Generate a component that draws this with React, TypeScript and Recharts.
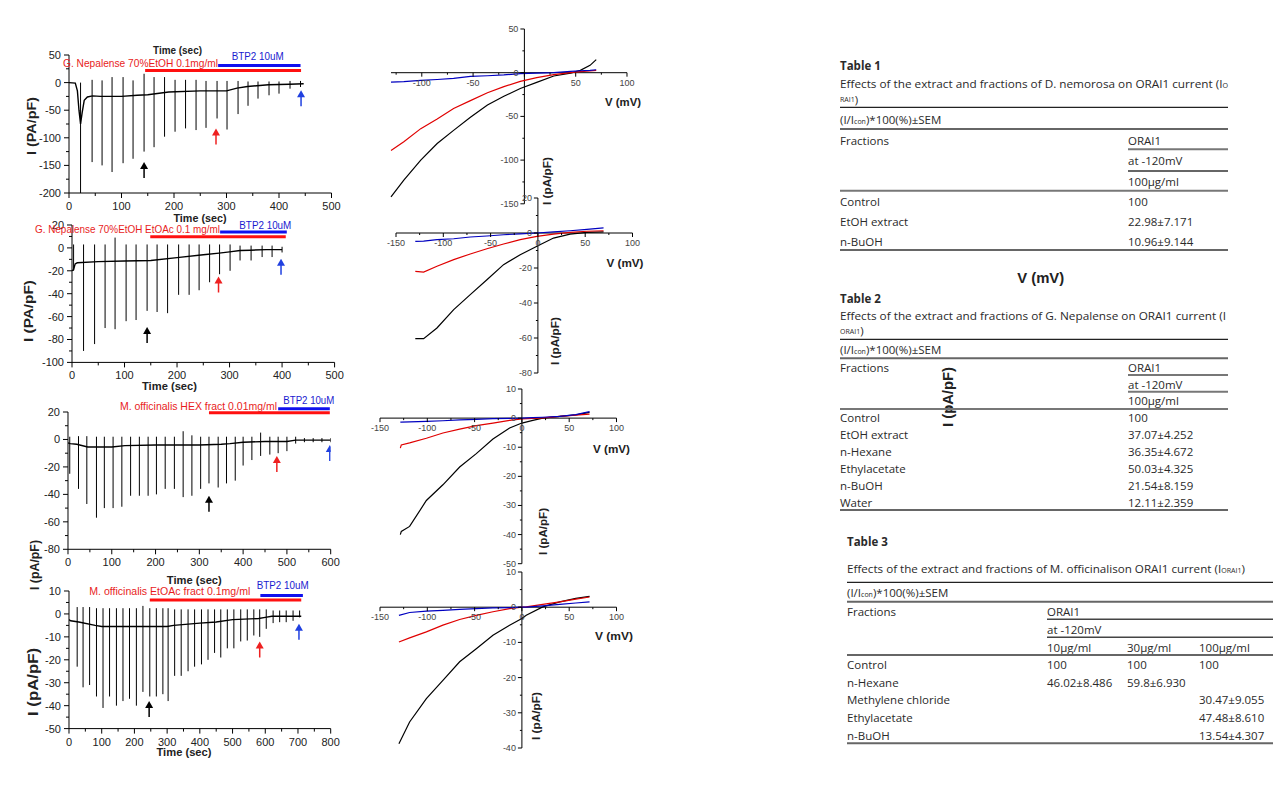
import React from 'react';
import { ComposedChart, Line, XAxis, YAxis, Scatter, ReferenceLine } from 'recharts';

// ---------- time course traces (t in sec, I in pA/pF) ----------
// G. Nepalense 70% EtOH
const nepEtohBaseT = [0, 12, 16, 19, 22, 25, 29, 35, 45, 60, 100, 130, 150, 190, 250, 300, 320, 340, 380, 420, 447];
const nepEtohBaseI = [0, -1, -15, -50, -75, -55, -32, -26, -24, -25, -25, -23, -22, -17, -15, -15, -10, -7, -4, -3, -2];
const nepEtohSpikeT = [22, 44, 63, 82, 103, 122, 143, 162, 182, 202, 222, 242, 261, 282, 301, 322, 341, 360, 381, 400, 421, 441];
const nepEtohSpikeLo = [-200, -144, -150, -162, -146, -138, -125, -117, -98, -89, -83, -86, -82, -65, -85, -57, -42, -29, -23, -20, -11, -8];
const nepEtohSpikeHi = [0, 5, 4, 10, 10, 4, 16, 10, 10, 5, 5, 5, 3, 3, 3, 3, 2, 2, 2, 2, 3, 3];
const nepEtohArrowT = [143, 280, 442];
const nepEtohArrowI = [-144, -83, -14];
const nepEtohRedBar = [145, 442, 22];
const nepEtohBlueBar = [284, 441, 31];

// G. Nepalense 70% EtOH EtOAc
const nepEtoacBaseT = [0, 3, 6, 10, 50, 100, 150, 200, 250, 280, 300, 320, 340, 370, 400];
const nepEtoacBaseI = [-20, -19, -14, -13, -12, -11.5, -11, -8.5, -6, -4.6, -3.5, -2.3, -2, -1.5, -1.5];
const nepEtoacSpikeT = [3, 22, 43, 63, 82, 103, 122, 143, 162, 182, 203, 223, 242, 262, 281, 301, 320, 341, 362, 381, 400];
const nepEtoacSpikeLo = [-20, -90, -84, -70, -71, -64, -63, -55, -56, -57, -41, -41, -37, -30, -23, -20, -11, -11, -8, -8, -4];
const nepEtoacSpikeHi = [3, 3, 3, 3, 9, 3, 3, 3, 3, 3, 3, 3, 3, 3, 3, 3, 2, 2, 2, 2, 1];
const nepEtoacArrowT = [143, 279, 398];
const nepEtoacArrowI = [-69, -25, -9.5];
const nepEtoacRedBar = [149, 407, 9.8];
const nepEtoacBlueBar = [282, 409, 13.9];

// M. officinalis HEX fract
const offHexBaseT = [0, 5, 20, 45, 100, 130, 200, 300, 350, 370, 400, 450, 500, 520, 600];
const offHexBaseI = [-2.5, -3, -3.5, -5.5, -5.5, -4.5, -4, -4, -3.5, -3, -2, -1.5, -1.5, -0.5, -0.5];
const offHexSpikeT = [4, 24, 43, 65, 83, 103, 123, 143, 163, 183, 202, 222, 243, 263, 283, 303, 322, 343, 362, 382, 400, 420, 440, 461, 480, 500, 520, 540, 560, 580, 600];
const offHexSpikeLo = [-25, -36, -47, -57, -50, -50, -49, -41, -41, -41, -40, -36, -36, -42, -41, -36, -32, -35, -32, -30, -19, -15, -12, -11, -10, -8.5, -3, -2, -2, -2, -2];
const offHexSpikeHi = [2, 2.4, 2.4, 2, 2, 2, 2, 2, 2, 2, 2, 2, 2, 6, 3, 2, 2, 2, 2, 2, 2, 2, 5, 2, 2, 2, 2, 1, 1, 1, 1];
const offHexArrowT = [322, 477, 598];
const offHexArrowI = [-41, -12, -4];
const offHexRedBar = [322, 598, 19.4];
const offHexBlueBar = [480, 598, 22.3];

// M. officinalis EtOAc fract
const offEtoacBaseT = [0, 5, 30, 80, 100, 200, 300, 320, 400, 450, 500, 580, 600, 620, 700, 710];
const offEtoacBaseI = [-2.5, -3, -3.5, -5, -5.5, -5.5, -5.5, -5, -4, -3.5, -2.5, -2, -1.5, -1, -1, -1];
const offEtoacSpikeT = [25, 43, 63, 84, 104, 124, 145, 165, 185, 206, 226, 247, 267, 287, 303, 323, 343, 364, 384, 405, 425, 445, 464, 484, 504, 525, 545, 565, 583, 603, 624, 644, 664, 685, 705];
const offEtoacSpikeLo = [-23, -32, -31, -36, -41, -36, -40, -38, -37, -40, -34, -36, -36, -35, -38, -27, -27, -25, -23, -22, -20, -17, -19, -15, -15, -12, -11.6, -9.4, -10, -6.5, -4, -3.6, -3.6, -3, -1.5];
const offEtoacSpikeHi = [3, 3, 3, 2.5, 2.5, 2.5, 2.5, 2.5, 2.5, 2.5, 3.5, 2.5, 2.5, 2.5, 2.5, 2, 2, 2, 2, 2, 2, 2, 2, 2, 2, 2, 2, 2, 2, 2, 1.5, 1.5, 1.5, 1.5, 1.5];
const offEtoacArrowT = [245, 583, 703];
const offEtoacArrowI = [-38, -12, -4.3];
const offEtoacRedBar = [247, 710, 6.1];
const offEtoacBlueBar = [585, 715, 8];

const arrowColors = ['#000000', '#ee2020', '#2040e0'];

// ---------- I-V curves (V in mV, I in pA/pF) ----------
const iv1V = [-130, -117.5, -101, -85, -69, -52.6, -36, -20, -4, 12, 28.6, 45, 54.5, 64, 70];
const iv1Ctrl = [-142, -123, -100, -81, -66, -51, -37, -27, -18, -11, -3.8, -0.4, 2.7, 8.4, 15];
const iv1Drug = [-89, -79, -64, -53, -41, -32, -23, -16, -10, -5.7, -2.3, 0, 1.2, 2, 2.7];
const iv1Btp2 = [-10.7, -10.2, -8.8, -7.8, -6.5, -4.2, -3.5, -2.5, -1, -0.5, 0, 1.5, 2.2, 2.7, 3.4];

const iv2V = [-129.6, -120.8, -106.7, -89, -71.5, -53.9, -36.3, -18.7, -1, 16.5, 34, 51.8, 69.4];
const iv2Ctrl = [-60.4, -60.4, -54.3, -43.8, -35.2, -26.7, -18.1, -12.4, -7.6, -2.9, -0.6, 0.4, 0.6];
const iv2Drug = [-21.9, -22.3, -19, -15.2, -12, -9, -6.3, -3.8, -1.9, -0.6, 0.4, 1, 1.3];
const iv2Btp2 = [-4.8, -4.6, -3.8, -3.3, -2.3, -1.7, -1, -0.5, 0, 0.6, 1.3, 2.1, 2.9];

const iv3V = [-128.5, -127.5, -118.7, -101, -83.5, -65.8, -48.2, -30.6, -13, 0, 11.6, 22, 40, 57, 71.5];
const iv3Ctrl = [-40, -38.9, -37.2, -28.3, -22.9, -16.8, -12.2, -7.2, -3.4, -1.7, -0.8, 0, 0.6, 1.1, 2];
const iv3Drug = [-10.3, -9.2, -8.5, -6.9, -5.1, -3.8, -2.6, -1.7, -0.8, -0.3, -0.1, 0.1, 0.6, 1, 1.4];
const iv3Btp2 = [-1.4, -1.4, -1.3, -1.1, -0.9, -0.6, -0.4, -0.2, -0.1, 0, 0.2, 0.3, 0.6, 1.2, 2.2];

const iv4V = [-130, -118.7, -101, -83.5, -65.8, -48.2, -30.6, -13, 0, 4.6, 22, 40, 57, 71.5];
const iv4Ctrl = [-38.8, -32.6, -26, -20.8, -15.5, -11.8, -8, -5.1, -3.2, -2.3, 0.1, 1.5, 2.5, 3.1];
const iv4Drug = [-9.9, -8.7, -7, -5.1, -3.5, -2.3, -1.3, -0.4, 0, 0.1, 0.8, 1.5, 2.3, 2.9];
const iv4Btp2 = [-2.3, -1.5, -1.1, -0.9, -0.6, -0.4, -0.2, -0.1, 0, 0, 0.4, 0.8, 1.2, 1.5];

// ---------- tables ----------
const t1Rows = ['Control', 'EtOH extract', 'n-BuOH'];
const t1Vals = ['100', '22.98±7.171', '10.96±9.144'];
const t2Rows = ['Control', 'EtOH extract', 'n-Hexane', 'Ethylacetate', 'n-BuOH', 'Water'];
const t2Vals = ['100', '37.07±4.252', '36.35±4.672', '50.03±4.325', '21.54±8.159', '12.11±2.359'];
const t3Rows = ['Control', 'n-Hexane', 'Methylene  chloride', 'Ethylacetate', 'n-BuOH'];
const t3Doses = ['10μg/ml', '30μg/ml', '100μg/ml'];
const t3Val10 = ['100', '46.02±8.486', '', '', ''];
const t3Val30 = ['100', '59.8±6.930', '', '', ''];
const t3Val100 = ['100', '', '30.47±9.055', '47.48±8.610', '13.54±4.307'];

const FONT_PLOT = '"Liberation Sans", Arial, sans-serif';
const FONT_TABLE = '"Open Sans", "Noto Sans", sans-serif';
const RED = '#e81c1c';
const BLUE = '#1a1ad0';

function makeXTick(majors: number[]) {
  return (props: any) => {
    const { x, y, payload } = props;
    const major = majors.includes(payload.value);
    return (
      <g>
        <line x1={x} x2={x} y1={y} y2={y + (major ? 5 : 3)} stroke="#000" />
        {major && (
          <text x={x} y={y + 13} textAnchor="middle" dominantBaseline="central" fontSize={11} fontFamily={FONT_PLOT} fill="#222">
            {payload.value}
          </text>
        )}
      </g>
    );
  };
}

function makeYTick(majors: number[]) {
  return (props: any) => {
    const { x, y, payload } = props;
    const major = majors.includes(payload.value);
    return (
      <g>
        <line x1={x} x2={x - (major ? 5 : 3)} y1={y} y2={y} stroke="#000" />
        {major && (
          <text x={x - 8} y={y} textAnchor="end" dominantBaseline="central" fontSize={11} fontFamily={FONT_PLOT} fill="#222">
            {payload.value}
          </text>
        )}
      </g>
    );
  };
}

function Arrow(props: any) {
  const { cx, cy, payload } = props;
  const c = payload.color;
  return (
    <g>
      <line x1={cx} x2={cx} y1={cy + 5} y2={cy + 16} stroke={c} strokeWidth={1.5} />
      <polygon points={`${cx},${cy} ${cx - 4},${cy + 7} ${cx + 4},${cy + 7}`} fill={c} />
    </g>
  );
}

interface TraceProps {
  x0: number; x1: number; y0: number; y1: number;
  xDomain: [number, number]; yDomain: [number, number];
  xMajor: number[]; xMinor: number[]; yMajor: number[]; yMinor: number[];
  baseT: number[]; baseI: number[];
  spikeT: number[]; spikeLo: number[]; spikeHi: number[];
  arrowT: number[]; arrowI: number[];
  redBar: number[]; blueBar: number[];
}

function TracePanel(p: TraceProps) {
  const base = p.baseT.map((t, i) => ({ x: t, y: p.baseI[i] }));
  const spikes: { x: number; y: number | null }[] = [];
  p.spikeT.forEach((t, i) => {
    spikes.push({ x: t, y: p.spikeHi[i] }, { x: t, y: p.spikeLo[i] }, { x: t, y: null });
  });
  const arrows = p.arrowT.map((t, i) => ({ x: t, y: p.arrowI[i], color: arrowColors[i] }));
  const padL = 60, padT = 20, padR = 20, padB = 30;
  const w = p.x1 - p.x0 + padL + padR;
  const h = p.y1 - p.y0 + padT + padB;
  return (
    <div style={{ position: 'absolute', left: p.x0 - padL, top: p.y0 - padT }}>
      <ComposedChart width={w} height={h} margin={{ top: padT, right: padR, bottom: 0, left: 0 }}>
        <XAxis type="number" dataKey="x" domain={p.xDomain} ticks={[...p.xMajor, ...p.xMinor].sort((a, b) => a - b)}
          interval={0} tickSize={0} tickMargin={0} tickLine={false} axisLine={{ stroke: '#000' }}
          tick={makeXTick(p.xMajor)} allowDataOverflow height={padB} />
        <YAxis type="number" dataKey="y" domain={p.yDomain} ticks={[...p.yMajor, ...p.yMinor].sort((a, b) => a - b)}
          interval={0} tickSize={0} tickMargin={0} tickLine={false} axisLine={{ stroke: '#000' }}
          tick={makeYTick(p.yMajor)} allowDataOverflow width={padL} />
        <ReferenceLine segment={[{ x: p.redBar[0], y: p.redBar[2] }, { x: p.redBar[1], y: p.redBar[2] }]}
          stroke="#ff1010" strokeWidth={3} ifOverflow="visible" />
        <ReferenceLine segment={[{ x: p.blueBar[0], y: p.blueBar[2] }, { x: p.blueBar[1], y: p.blueBar[2] }]}
          stroke="#1010ee" strokeWidth={3} ifOverflow="visible" />
        <Line data={spikes} dataKey="y" type="linear" stroke="#000" strokeWidth={1} dot={false} isAnimationActive={false} />
        <Line data={base} dataKey="y" type="linear" stroke="#000" strokeWidth={1.4} dot={false} isAnimationActive={false} />
        <Scatter data={arrows} dataKey="y" shape={Arrow} isAnimationActive={false} />
      </ComposedChart>
    </div>
  );
}

interface IVProps {
  x0: number; x1: number; y0: number; y1: number;
  xDomain: [number, number]; yDomain: [number, number];
  xMajor: number[]; xMinor: number[]; yMajor: number[]; yMinor: number[];
  hideX0?: boolean;
  v: number[]; ctrl: number[]; drug: number[]; btp2: number[];
}

function IVPanel(p: IVProps) {
  const mk = (arr: number[]) => p.v.map((v, i) => ({ x: v, y: arr[i] }));
  const xTicks = [
    ...p.xMajor.map((v) => ({ x: v, y: 0, major: true })),
    ...p.xMinor.map((v) => ({ x: v, y: 0, major: false })),
  ];
  const yTicks = [
    ...p.yMajor.map((v) => ({ x: 0, y: v, major: true })),
    ...p.yMinor.map((v) => ({ x: 0, y: v, major: false })),
  ];
  const xTickShape = (s: any) => {
    const { cx, cy, payload } = s;
    const showLabel = payload.major && !(p.hideX0 && payload.x === 0);
    return (
      <g>
        <line x1={cx} x2={cx} y1={cy} y2={cy + (payload.major ? 4 : 2)} stroke="#000" />
        {showLabel && (
          <text x={cx} y={cy + 10} textAnchor="middle" dominantBaseline="central" fontSize={9} fontFamily={FONT_PLOT} fill="#444">
            {payload.x}
          </text>
        )}
      </g>
    );
  };
  const yTickShape = (s: any) => {
    const { cx, cy, payload } = s;
    return (
      <g>
        <line x1={cx} x2={cx - (payload.major ? 4 : 2)} y1={cy} y2={cy} stroke="#000" />
        {payload.major && (
          <text x={cx - 6} y={cy} textAnchor="end" dominantBaseline="central" fontSize={9} fontFamily={FONT_PLOT} fill="#444">
            {payload.y}
          </text>
        )}
      </g>
    );
  };
  const pad = 10;
  return (
    <div style={{ position: 'absolute', left: p.x0 - pad, top: p.y0 - pad }}>
      <ComposedChart width={p.x1 - p.x0 + 2 * pad} height={p.y1 - p.y0 + 2 * pad} margin={{ top: pad, right: pad, bottom: pad, left: pad }}>
        <XAxis type="number" dataKey="x" domain={p.xDomain} hide />
        <YAxis type="number" dataKey="y" domain={p.yDomain} hide />
        <ReferenceLine x={0} stroke="#000" />
        <ReferenceLine y={0} stroke="#000" />
        <Scatter data={xTicks} dataKey="y" shape={xTickShape} isAnimationActive={false} />
        <Scatter data={yTicks} dataKey="y" shape={yTickShape} isAnimationActive={false} />
        <Line data={mk(p.ctrl)} dataKey="y" type="linear" stroke="#000" strokeWidth={1.2} dot={false} isAnimationActive={false} />
        <Line data={mk(p.drug)} dataKey="y" type="linear" stroke="#e00000" strokeWidth={1.2} dot={false} isAnimationActive={false} />
        <Line data={mk(p.btp2)} dataKey="y" type="linear" stroke="#0000c0" strokeWidth={1.2} dot={false} isAnimationActive={false} />
      </ComposedChart>
    </div>
  );
}

function Txt(props: any) {
  const { x, y, children, size = 11, bold = false, color = '#222', len, anchor = 'start', rot = false, family = FONT_PLOT } = props;
  const common: any = {
    fontSize: size, fontWeight: bold ? 700 : 400, fill: color, fontFamily: family,
    textAnchor: anchor, dominantBaseline: 'central',
  };
  if (len) { common.textLength = len; common.lengthAdjust = 'spacingAndGlyphs'; }
  if (rot) return <text transform={`translate(${x},${y}) rotate(-90)`} {...common}>{children}</text>;
  return <text x={x} y={y} {...common}>{children}</text>;
}

function T(props: any) {
  return <Txt family={FONT_TABLE} size={11.5} color="#2a2a2a" {...props} />;
}

function HLine({ x1, x2, y, w = 1, c = '#333' }: any) {
  return <line x1={x1} x2={x2} y1={y} y2={y} stroke={c} strokeWidth={w} />;
}

const sub = (s: string) => <tspan fontSize={7} dy={2}>{s}</tspan>;

export default function App() {
  const tMaj500 = [0, 100, 200, 300, 400, 500];
  const tMin500 = [50, 150, 250, 350, 450];
  const ivXMaj = [-150, -100, -50, 0, 50, 100];
  const ivXMin = [-125, -75, -25, 25, 75];
  return (
    <div style={{ position: 'absolute', left: 0, top: 0, width: 1273, height: 788, background: '#fff', overflow: 'hidden' }}>
      <TracePanel x0={68.5} x1={331} y0={55} y1={193} xDomain={[0, 500]} yDomain={[-200, 50]}
        xMajor={tMaj500} xMinor={tMin500} yMajor={[-200, -150, -100, -50, 0, 50]} yMinor={[-175, -125, -75, -25, 25]}
        baseT={nepEtohBaseT} baseI={nepEtohBaseI} spikeT={nepEtohSpikeT} spikeLo={nepEtohSpikeLo} spikeHi={nepEtohSpikeHi}
        arrowT={nepEtohArrowT} arrowI={nepEtohArrowI} redBar={nepEtohRedBar} blueBar={nepEtohBlueBar} />
      <TracePanel x0={71.7} x1={334.3} y0={225.3} y1={362.7} xDomain={[0, 500]} yDomain={[-100, 20]}
        xMajor={tMaj500} xMinor={tMin500} yMajor={[-100, -80, -60, -40, -20, 0, 20]} yMinor={[-90, -70, -50, -30, -10, 10]}
        baseT={nepEtoacBaseT} baseI={nepEtoacBaseI} spikeT={nepEtoacSpikeT} spikeLo={nepEtoacSpikeLo} spikeHi={nepEtoacSpikeHi}
        arrowT={nepEtoacArrowT} arrowI={nepEtoacArrowI} redBar={nepEtoacRedBar} blueBar={nepEtoacBlueBar} />
      <TracePanel x0={68.3} x1={331} y0={412} y1={549.3} xDomain={[0, 600]} yDomain={[-80, 20]}
        xMajor={[0, 100, 200, 300, 400, 500, 600]} xMinor={[50, 150, 250, 350, 450, 550]}
        yMajor={[-80, -60, -40, -20, 0, 20]} yMinor={[-70, -50, -30, -10, 10]}
        baseT={offHexBaseT} baseI={offHexBaseI} spikeT={offHexSpikeT} spikeLo={offHexSpikeLo} spikeHi={offHexSpikeHi}
        arrowT={offHexArrowT} arrowI={offHexArrowI} redBar={offHexRedBar} blueBar={offHexBlueBar} />
      <TracePanel x0={69.3} x1={331} y0={590.7} y1={728.3} xDomain={[0, 800]} yDomain={[-50, 10]}
        xMajor={[0, 100, 200, 300, 400, 500, 600, 700, 800]} xMinor={[50, 150, 250, 350, 450, 550, 650, 750]}
        yMajor={[-50, -40, -30, -20, -10, 0, 10]} yMinor={[-45, -35, -25, -15, -5, 5]}
        baseT={offEtoacBaseT} baseI={offEtoacBaseI} spikeT={offEtoacSpikeT} spikeLo={offEtoacSpikeLo} spikeHi={offEtoacSpikeHi}
        arrowT={offEtoacArrowT} arrowI={offEtoacArrowI} redBar={offEtoacRedBar} blueBar={offEtoacBlueBar} />

      <IVPanel x0={390.6} x1={626.6} y0={29} y1={203.8} xDomain={[-130, 100]} yDomain={[-150, 50]}
        xMajor={[-100, -50, 0, 50, 100]} xMinor={ivXMin} yMajor={[-150, -100, -50, 0, 50]} yMinor={[-125, -75, -25, 25]}
        hideX0 v={iv1V} ctrl={iv1Ctrl} drug={iv1Drug} btp2={iv1Btp2} />
      <IVPanel x0={395.8} x1={632.3} y0={198.3} y1={373.3} xDomain={[-150, 100]} yDomain={[-80, 20]}
        xMajor={ivXMaj} xMinor={ivXMin} yMajor={[-80, -60, -40, -20, 0, 20]} yMinor={[-70, -50, -30, -10, 10]}
        v={iv2V} ctrl={iv2Ctrl} drug={iv2Drug} btp2={iv2Btp2} />
      <IVPanel x0={380.4} x1={616.9} y0={389.3} y1={564} xDomain={[-150, 100]} yDomain={[-50, 10]}
        xMajor={ivXMaj} xMinor={ivXMin} yMajor={[-50, -40, -30, -20, -10, 0, 10]} yMinor={[-45, -35, -25, -15, -5, 5]}
        v={iv3V} ctrl={iv3Ctrl} drug={iv3Drug} btp2={iv3Btp2} />
      <IVPanel x0={380.4} x1={616.9} y0={571.7} y1={747.7} xDomain={[-150, 100]} yDomain={[-40, 10]}
        xMajor={ivXMaj} xMinor={ivXMin} yMajor={[-40, -30, -20, -10, 0, 10]} yMinor={[-35, -25, -15, -5, 5]}
        v={iv4V} ctrl={iv4Ctrl} drug={iv4Drug} btp2={iv4Btp2} />

      <svg width={1273} height={788} style={{ position: 'absolute', left: 0, top: 0, pointerEvents: 'none' }}>
        {/* trace panel labels */}
        <Txt x={177.5} y={50} bold size={11} anchor="middle" len={49}>Time (sec)</Txt>
        <Txt x={63} y={63.3} size={10.5} color={RED} len={155}>G. Nepalense 70%EtOH 0.1mg/ml</Txt>
        <Txt x={231.7} y={55.7} size={10.5} color={BLUE} len={52}>BTP2 10uM</Txt>
        <Txt x={31.7} y={126} rot bold size={13} anchor="middle" len={58}>I (PA/pF)</Txt>

        <Txt x={200} y={218.3} bold size={11} anchor="middle" len={53}>Time (sec)</Txt>
        <Txt x={35} y={229} size={10.5} color={RED} len={185}>G. Nepalense 70%EtOH EtOAc 0.1 mg/ml</Txt>
        <Txt x={239.3} y={225} size={10.5} color={BLUE} len={52}>BTP2 10uM</Txt>
        <Txt x={28.3} y={311} rot bold size={13} anchor="middle" len={62}>I (PA/pF)</Txt>
        <Txt x={169.5} y={385.5} bold size={11} anchor="middle" len={55}>Time (sec)</Txt>

        <Txt x={120} y={406} size={10.5} color={RED} len={157}>M. officinalis HEX fract 0.01mg/ml</Txt>
        <Txt x={283.3} y={400} size={10.5} color={BLUE} len={51}>BTP2 10uM</Txt>
        <Txt x={34} y={565} rot bold size={13} anchor="middle" len={50}>I (pA/pF)</Txt>

        <Txt x={194.3} y={580} bold size={11} anchor="middle" len={55}>Time (sec)</Txt>
        <Txt x={89.3} y={590.7} size={10.5} color={RED} len={161}>M. officinalis EtOAc fract 0.1mg/ml</Txt>
        <Txt x={256.7} y={585} size={10.5} color={BLUE} len={52}>BTP2 10uM</Txt>
        <Txt x={33.3} y={682} rot bold size={14} anchor="middle" len={68}>I (pA/pF)</Txt>
        <Txt x={184} y={751.5} bold size={11} anchor="middle" len={55}>Time (sec)</Txt>

        {/* IV labels */}
        <Txt x={623} y={101.7} bold size={11.5} anchor="middle" len={36}>V (mV)</Txt>
        <Txt x={547} y={181} rot bold size={11.5} anchor="middle" len={48}>I (pA/pF)</Txt>
        <Txt x={625} y={263} bold size={11.5} anchor="middle" len={37}>V (mV)</Txt>
        <Txt x={555} y={341} rot bold size={11.5} anchor="middle" len={48}>I (pA/pF)</Txt>
        <Txt x={611.5} y={449} bold size={11.5} anchor="middle" len={37}>V (mV)</Txt>
        <Txt x={543} y={531.5} rot bold size={11.5} anchor="middle" len={47}>I (pA/pF)</Txt>
        <Txt x={614} y={635.7} bold size={11.5} anchor="middle" len={38}>V (mV)</Txt>
        <Txt x={535.7} y={716} rot bold size={11.5} anchor="middle" len={48}>I (pA/pF)</Txt>

        {/* stray labels */}
        <Txt x={1040.7} y={278.3} bold size={14.5} anchor="middle" len={47}>V (mV)</Txt>
        <Txt x={948.3} y={397} rot bold size={14.5} anchor="middle" len={60}>I (pA/pF)</Txt>

        {/* Table 1 */}
        <T x={840} y={65} bold>Table 1</T>
        <T x={840} y={83.3} len={388}>Effects of the  extract and fractions of D. nemorosa on ORAI1 current (I{sub('O')}</T>
        <T x={840} y={99}><tspan fontSize={7}>RAI1</tspan>)</T>
        <HLine x1={840} x2={1228} y={107.3} w={1.2} c="#222" />
        <T x={840} y={119}>(I/I{sub('con')}<tspan dy={-2}>)*100(%)±SEM</tspan></T>
        <HLine x1={840} x2={1228} y={129} w={2} c="#666" />
        <T x={840} y={140}>Fractions</T>
        <T x={1128} y={140}>ORAI1</T>
        <HLine x1={1128} x2={1228} y={149.3} w={2} c="#777" />
        <T x={1128} y={160}>at -120mV</T>
        <HLine x1={1128} x2={1228} y={171} w={1.5} c="#333" />
        <T x={1128} y={181.7}>100μg/ml</T>
        <HLine x1={840} x2={1228} y={190.7} w={2} c="#777" />
        {t1Rows.map((r, i) => (
          <g key={r}>
            <T x={840} y={201 + i * 20}>{r}</T>
            <T x={1128} y={201 + i * 20}>{t1Vals[i]}</T>
          </g>
        ))}
        <HLine x1={840} x2={1228} y={250} w={2} c="#666" />

        {/* Table 2 */}
        <T x={840} y={298.3} bold>Table 2</T>
        <T x={840} y={315} len={386}>Effects of the  extract and fractions of G. Nepalense on ORAI1 current (I</T>
        <T x={840} y={330.7}><tspan fontSize={7}>ORAI1</tspan>)</T>
        <HLine x1={840} x2={1228} y={339.3} w={1.2} c="#222" />
        <T x={840} y={349.3}>(I/I{sub('con')}<tspan dy={-2}>)*100(%)±SEM</tspan></T>
        <HLine x1={840} x2={1228} y={358.3} w={2} c="#666" />
        <T x={840} y={367.3}>Fractions</T>
        <T x={1128} y={367.3}>ORAI1</T>
        <HLine x1={1128} x2={1228} y={375} w={2} c="#777" />
        <T x={1128} y={384}>at -120mV</T>
        <HLine x1={1128} x2={1228} y={391.7} w={2} c="#777" />
        <T x={1128} y={400.7}>100μg/ml</T>
        <HLine x1={840} x2={1228} y={409} w={2} c="#777" />
        {t2Rows.map((r, i) => (
          <g key={r}>
            <T x={840} y={417.7 + i * 17}>{r}</T>
            <T x={1128} y={417.7 + i * 17}>{t2Vals[i]}</T>
          </g>
        ))}
        <HLine x1={840} x2={1228} y={510} w={2} c="#666" />

        {/* Table 3 */}
        <T x={847} y={541} bold>Table 3</T>
        <T x={847} y={568} len={398}>Effects of the  extract and fractions of M. officinalison ORAI1 current (I{sub('ORAI1')}<tspan dy={-2}>)</tspan></T>
        <HLine x1={847} x2={1273} y={582.3} w={1.2} c="#222" />
        <T x={847} y={592.3}>(I/I{sub('con')}<tspan dy={-2}>)*100(%)±SEM</tspan></T>
        <HLine x1={847} x2={1273} y={601.7} w={2} c="#666" />
        <T x={847} y={611}>Fractions</T>
        <T x={1047} y={611}>ORAI1</T>
        <HLine x1={1047} x2={1273} y={619.3} w={1.5} c="#444" />
        <T x={1047} y={629.3}>at -120mV</T>
        <HLine x1={1047} x2={1273} y={637.3} w={1.5} c="#444" />
        {t3Doses.map((d, i) => (
          <T key={d} x={[1047, 1127, 1199][i]} y={647.3}>{d}</T>
        ))}
        <HLine x1={847} x2={1273} y={655} w={2} c="#666" />
        {t3Rows.map((r, i) => (
          <g key={r}>
            <T x={847} y={664.3 + i * 17.7}>{r}</T>
            <T x={1047} y={664.3 + i * 17.7}>{t3Val10[i]}</T>
            <T x={1127} y={664.3 + i * 17.7}>{t3Val30[i]}</T>
            <T x={1199} y={664.3 + i * 17.7}>{t3Val100[i]}</T>
          </g>
        ))}
        <HLine x1={847} x2={1273} y={743.3} w={2} c="#666" />
      </svg>
    </div>
  );
}
